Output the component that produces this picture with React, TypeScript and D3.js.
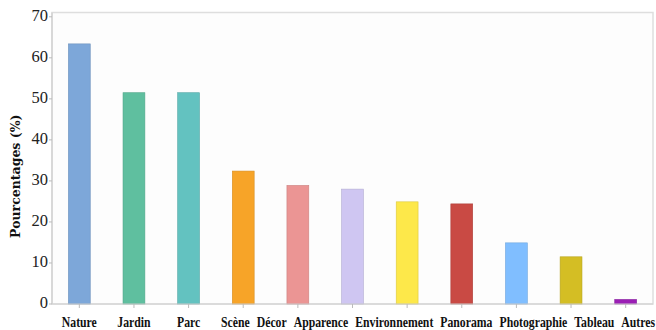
import React, { useLayoutEffect, useRef, useState } from "react";
import * as d3 from "d3";

const categories = [
  "Nature", "Jardin", "Parc", "Scène", "Décor", "Apparence",
  "Environnement", "Panorama", "Photographie", "Tableau", "Autres",
];
const percentages = [63.4, 51.5, 51.5, 32.4, 28.9, 28.0, 24.9, 24.4, 14.9, 11.5, 1.1];
const barColors = [
  "#7da7d9", "#5fbf9f", "#63c2c0", "#f7a428", "#eb9594", "#cfc6f2",
  "#fde84a", "#c94a44", "#80beff", "#d4be24", "#9b1fb5",
];
const yTicks = [0, 10, 20, 30, 40, 50, 60, 70];
const yTitle = "Pourcentages (%)";

const W = 656;
const H = 330;
const M = { left: 52, right: 3, top: 12.5, bottom: 26 };
const SERIF = "'Liberation Serif', 'DejaVu Serif', 'Times New Roman', serif";
const LABEL_SCALE = 0.84;
const LABEL_GAP = 7;

// Spread category labels apart so neighbouring labels never collide,
// keeping the last one inside the drawing.
function spreadLabels(centers: number[], widths: number[], maxRight: number): number[] {
  const p = centers.slice();
  const n = p.length;
  for (let iter = 0; iter < 400; iter++) {
    let moved = false;
    for (let i = 0; i < n - 1; i++) {
      const overlap = p[i] + widths[i] / 2 + LABEL_GAP - (p[i + 1] - widths[i + 1] / 2);
      if (overlap > 0.01) {
        p[i] -= overlap / 2;
        p[i + 1] += overlap / 2;
        moved = true;
      }
    }
    const over = p[n - 1] + widths[n - 1] / 2 - maxRight;
    if (over > 0.01) {
      p[n - 1] -= over;
      moved = true;
    }
    if (!moved) break;
  }
  return p;
}

export default function App() {
  const x = d3
    .scaleBand<string>()
    .domain(categories)
    .range([M.left, W - M.right])
    .paddingInner(0.6)
    .paddingOuter(0.3);
  const y = d3.scaleLinear().domain([0, 71.05]).range([H - M.bottom, M.top]);
  const y0 = y(0);
  const centers = categories.map((c) => x(c)! + x.bandwidth() / 2);

  const labelRefs = useRef<(SVGTextElement | null)[]>([]);
  const [labelX, setLabelX] = useState<number[]>(centers);

  useLayoutEffect(() => {
    const widths = labelRefs.current.map((el) =>
      el ? el.getComputedTextLength() * LABEL_SCALE : 0
    );
    setLabelX(spreadLabels(centers, widths, W - 1));
    // eslint-disable-next-line react-hooks/exhaustive-deps
  }, []);

  return (
    <svg
      width={W}
      height={H}
      style={{ position: "absolute", left: 0, top: 0, background: "#fff" }}
    >
      {/* plot frame */}
      <rect
        x={M.left}
        y={M.top}
        width={W - M.right - M.left}
        height={y0 - M.top}
        fill="#fdfdfd"
        stroke="#dedede"
        strokeWidth={1.5}
      />
      {/* bars */}
      {categories.map((c, i) => (
        <rect
          key={c}
          x={x(c)}
          y={y(percentages[i])}
          width={x.bandwidth()}
          height={y0 - y(percentages[i])}
          fill={barColors[i]}
          stroke={d3.color(barColors[i])!.darker(0.4).formatHex()}
          strokeWidth={0.6}
        />
      ))}
      {/* y axis */}
      <line x1={M.left} x2={M.left} y1={M.top} y2={y0} stroke="#cfcfcf" strokeWidth={1.2} />
      {yTicks.map((t) => (
        <g key={t}>
          <line x1={M.left - 3} x2={M.left} y1={y(t)} y2={y(t)} stroke="#bbb" />
          <text
            x={M.left - 4}
            y={y(t) + 4}
            textAnchor="end"
            style={{ fontFamily: SERIF, fontSize: 16.5 }}
            fill="#222"
          >
            {t}
          </text>
        </g>
      ))}
      {/* x axis */}
      <line x1={M.left} x2={W - M.right} y1={y0} y2={y0} stroke="#cfcfcf" strokeWidth={1.2} />
      {categories.map((c, i) => (
        <g key={c}>
          <line x1={centers[i]} x2={centers[i]} y1={y0} y2={y0 + 4} stroke="#bbb" />
          <text
            ref={(el) => {
              labelRefs.current[i] = el;
            }}
            transform={`translate(${labelX[i]},${y0 + 23}) scale(${LABEL_SCALE},1)`}
            textAnchor="middle"
            style={{ fontFamily: SERIF, fontSize: 14, fontWeight: "bold" }}
            fill="#111"
          >
            {c}
          </text>
        </g>
      ))}
      {/* y title */}
      <text
        transform={`translate(20,${(M.top + y0) / 2 + 18}) rotate(-90)`}
        textAnchor="middle"
        style={{ fontFamily: "'DejaVu Serif', serif", fontSize: 12.5, fontWeight: "bold" }}
        fill="#111"
      >
        {yTitle}
      </text>
    </svg>
  );
}
